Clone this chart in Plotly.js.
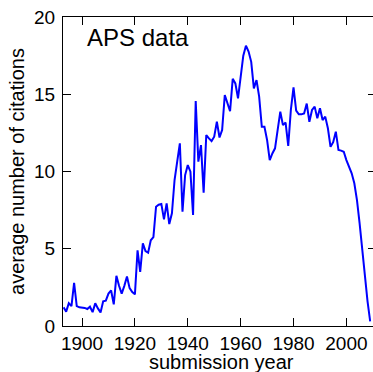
<!DOCTYPE html>
<html>
<head>
<meta charset="utf-8">
<script src="https://cdn.plot.ly/plotly-3.0.1.min.js"></script>
<style>
html,body{margin:0;padding:0;overflow:hidden;background:#fff;width:373px;height:372px;}
#chart{width:376px;height:372px;}
</style>
</head>
<body>
<div id="chart"></div>
<script>
const startYear = 1893;
const citations = [
  1.21, 0.93, 1.47, 1.29, 2.8, 1.29, 1.21,            // 1893-1899
  1.19, 1.17, 1.1, 1.25, 0.9, 1.47, 1.14, 0.88, 1.6, 1.64, // 1900-1909
  2.1, 2.3, 1.4, 3.25, 2.6, 2.1, 2.6, 3.2, 2.45, 2.2,   // 1910-1919
  2.05, 4.9, 3.5, 5.35, 4.85, 4.75, 5.55, 5.75, 7.72, 7.85, // 1920-1929
  7.9, 6.9, 7.94, 6.6, 7.3, 9.45, 10.64, 11.82, 7.4, 9.77, // 1930-1939
  10.42, 9.99, 7.19, 14.56, 10.64, 11.71, 8.63, 12.36, 12.14, 11.97, // 1940-1949
  12.25, 13.23, 12.2, 12.69, 14.95, 14.45, 13.9, 16.0, 15.7, 14.74, // 1950-1959
  16.3, 17.5, 18.14, 17.76, 17.1, 15.38, 15.92, 14.85, 12.9, 12.9, // 1960-1969
  12.04, 10.74, 11.17, 11.5, 12.69, 13.87, 13.0, 13.17, 11.65, 14.0, // 1970-1979
  15.45, 13.94, 13.7, 13.7, 13.76, 14.4, 13.22, 13.98, 14.2, 13.44, // 1980-1989
  14.09, 13.33, 13.55, 12.8, 11.6, 11.9, 12.58, 11.39, 11.35, 11.28, // 1990-1999
  10.74, 10.3, 9.88, 9.24, 8.15, 6.64, 4.91, 3.2, 1.6, 0.3 // 2000-2009
];
const years = citations.map((_, i) => startYear + i);
const xTicks = [1900, 1920, 1940, 1960, 1980, 2000];
const yTicks = [0, 5, 10, 15, 20];
const labelText = "APS data";
const xTitle = "submission year";
const yTitle = "average number of citations";

const font = "Liberation Sans, Arial, Helvetica, sans-serif";

const trace = {
  x: years, y: citations, type: "scatter", mode: "lines",
  line: {color: "#0000ff", width: 2}, hoverinfo: "skip"
};

const axisCommon = {
  showgrid: false, zeroline: false, showline: true, linecolor: "#000", linewidth: 1,
  mirror: "ticks", ticks: "inside", ticklen: 8, tickcolor: "#000", tickwidth: 1,
  tickfont: {family: font, size: 19, color: "#000"}
};

const layout = {
  width: 376, height: 372,
  margin: {l: 63, r: 0, t: 17, b: 46},
  paper_bgcolor: "#fff", plot_bgcolor: "#fff",
  showlegend: false,
  xaxis: Object.assign({}, axisCommon, {
    range: [1892.8, 2011.2], tickvals: xTicks, ticktext: xTicks.map(String),
    ticklabelstandoff: 0
  }),
  yaxis: Object.assign({}, axisCommon, {
    range: [0, 20], tickvals: yTicks, ticktext: yTicks.map(String),
    ticklabelstandoff: 3,
    title: {text: yTitle, font: {family: font, size: 20, color: "#000"}, standoff: 4}
  }),
  annotations: [{
    text: labelText, xref: "paper", yref: "paper", x: 0.07, y: 0.985,
    xanchor: "left", yanchor: "top", showarrow: false,
    font: {family: font, size: 24, color: "#000"}
  }, {
    text: xTitle, xref: "paper", yref: "paper", x: 0.505, y: -0.076,
    xanchor: "center", yanchor: "top", showarrow: false,
    font: {family: font, size: 20, color: "#000"}
  }]
};

Plotly.newPlot("chart", [trace], layout, {staticPlot: true, displayModeBar: false});
</script>
</body>
</html>
